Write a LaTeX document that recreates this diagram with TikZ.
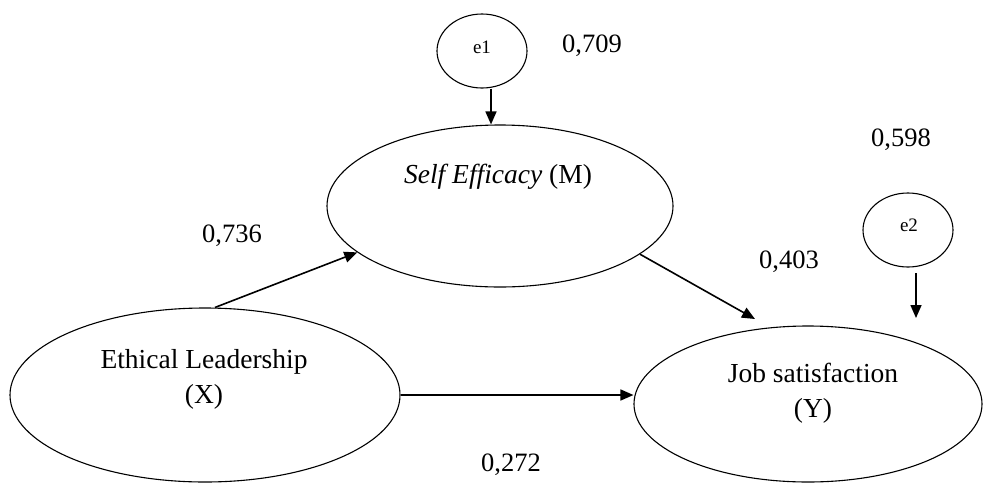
\documentclass[tikz,border=0pt]{standalone}
\usepackage{fontspec}
\setmainfont{Liberation Serif}
\usetikzlibrary{arrows.meta,shapes.geometric,calc}
\tikzset{
  ell/.style={draw=black, line width=1.1pt, ellipse, inner sep=0pt},
  lbl/.style={inner sep=0pt, font=\fontsize{27.5}{35}\selectfont, align=center},
  num/.style={inner sep=0pt, font=\fontsize{26.5}{30}\selectfont, text=black},
  err/.style={inner sep=0pt, font=\fontsize{19}{20}\selectfont},
  arr/.style={line width=1.6pt, -{Triangle[length=13pt,width=11pt]}}
}
\begin{document}
\begin{tikzpicture}[x=1pt,y=-1pt]
\useasboundingbox (0,0) rectangle (986,483);
% ellipses
\node[ell, minimum width=346pt, minimum height=162pt] (se) at (500,206) {};
\node[ell, minimum width=390pt, minimum height=174pt] (el) at (205,395) {};
\node[ell, minimum width=348pt, minimum height=156pt] (js) at (808,404) {};
\node[ell, minimum width=90pt, minimum height=74pt] (e1) at (482,51) {};
\node[ell, minimum width=90pt, minimum height=74pt] (e2) at (908,230) {};
% texts
\node[lbl] (set) at (498,177) {\textit{Self Efficacy} (M)};
\node[lbl] (elt) at (204,379) {Ethical Leadership\\(X)};
\node[lbl] (jst) at (813,393) {Job satisfaction\\(Y)};
\node[err] (e1t) at (482,47) {e1};
\node[err] (e2t) at (909,225) {e2};
% numbers
\node[num] (n709) at (592,46) {0,709};
\node[num] (n598) at (901,140) {0,598};
\node[num] (n736) at (232,236) {0,736};
\node[num] (n403) at (789,262) {0,403};
\node[num] (n272) at (511,465) {0,272};
% connectors
\coordinate (t3) at (755,319);
\coordinate (e2a) at (916,273);
\coordinate (e2b) at (916,318);
\draw[arr] ($(e1.south)+(9,0)$) -- ($(se.north)+(-9,0)$);
\draw[arr] ($(el.north)+(10,0)$) -- (se.198);
\draw[arr] (se.-19) -- (t3);
\draw[arr] (e2a) -- (e2b);
\draw[arr] (el.east) -- (el.east -| js.west);
\end{tikzpicture}
\end{document}
